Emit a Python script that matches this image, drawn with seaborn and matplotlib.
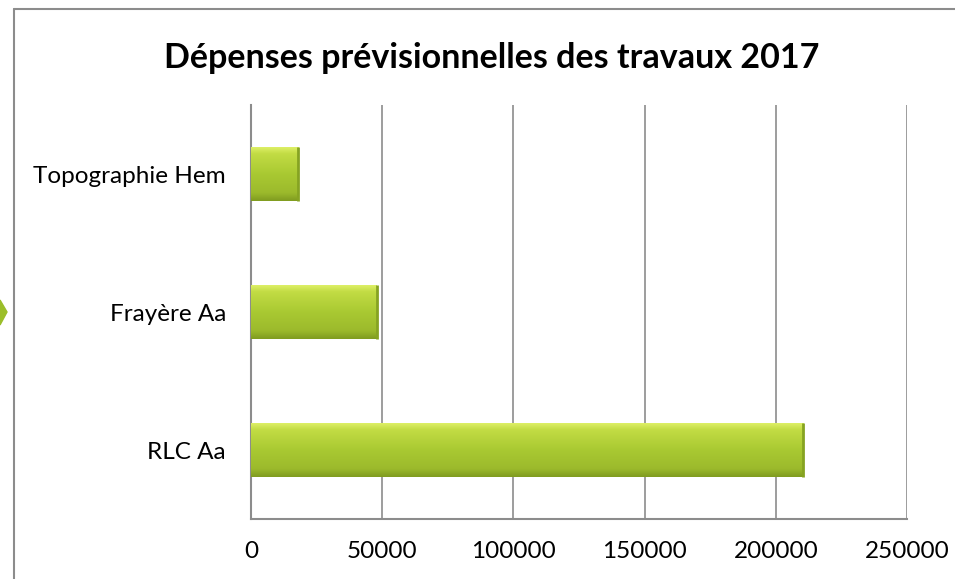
import numpy as np
import pandas as pd
import matplotlib
matplotlib.use("Agg")
import matplotlib.pyplot as plt
import seaborn as sns
from matplotlib.patches import Polygon
from matplotlib.lines import Line2D
from matplotlib.colors import LinearSegmentedColormap

categories = ["Topographie Hem", "Frayère Aa", "RLC Aa"]
values = [18000, 48000, 210500]
xticks = [0, 50000, 100000, 150000, 200000, 250000]
title = "Dépenses prévisionnelles des travaux 2017"

sns.set_style("white")
plt.rcParams["font.family"] = ["Lato", "DejaVu Sans"]
plt.rcParams["text.color"] = "black"
plt.rcParams["xtick.color"] = "black"
plt.rcParams["ytick.color"] = "black"

df = pd.DataFrame({"cat": categories, "val": values})

fig = plt.figure(figsize=(9.55, 5.79), dpi=100)
ax = fig.add_axes([251/955, 60/579, (907-251)/955, (519-105)/579])

sns.barplot(data=df, x="val", y="cat", orient="h", color="#A2C12A",
            width=0.39, ax=ax, edgecolor="none", zorder=3)

grad = np.linspace(0, 1, 100).reshape(-1, 1)
cmap = LinearSegmentedColormap.from_list("g", [
    (0.0, "#DDEF66"), (0.12, "#C2DC44"), (0.5, "#A9C932"),
    (0.85, "#9CBA2C"), (1.0, "#809C20")])
for p in list(ax.patches):
    x0, y0 = p.get_x(), p.get_y()
    w, h = p.get_width(), p.get_height()
    im = ax.imshow(grad, aspect="auto", cmap=cmap,
                   extent=[x0, x0 + w, y0 + h, y0], zorder=4,
                   interpolation="bicubic")
    im.set_clip_path(p)
    ax.plot([x0 + w, x0 + w], [y0, y0 + h], color="#86A322", lw=2, zorder=5,
            solid_capstyle="butt")

ax.set_xlim(0, 250000)
ax.set_ylim(2.5, -0.5)
ax.set_xticks(xticks)
ax.set_xticklabels([str(t) for t in xticks])
ax.set_xlabel("")
ax.set_ylabel("")
ax.grid(axis="x", color="#8C8C8C", lw=1.2, zorder=0)
ax.grid(axis="y", visible=False)
for s in ["top", "right"]:
    ax.spines[s].set_visible(False)
for s in ["left", "bottom"]:
    ax.spines[s].set_color("#8C8C8C")
    ax.spines[s].set_linewidth(1.5)
ax.tick_params(axis="x", length=0, pad=16, labelsize=17.5)
ax.tick_params(axis="y", length=0, pad=18, labelsize=17.5)

fig.text(492/955, 1 - 58/579, title, ha="center", va="center",
         fontsize=24.5, fontweight="bold", color="black")

fig.add_artist(Line2D([14/955, 14/955], [0, 1 - 9/579], color="#8C8C8C", lw=1.5))
fig.add_artist(Line2D([14/955, 1], [1 - 9/579, 1 - 9/579], color="#8C8C8C", lw=1.5))

fig.add_artist(Polygon([[0, 1 - 300/579], [7/955, 1 - 312/579], [0, 1 - 325/579]],
                       closed=True, color="#9BBE2A", transform=fig.transFigure))

fig.savefig("out.png", dpi=100)
